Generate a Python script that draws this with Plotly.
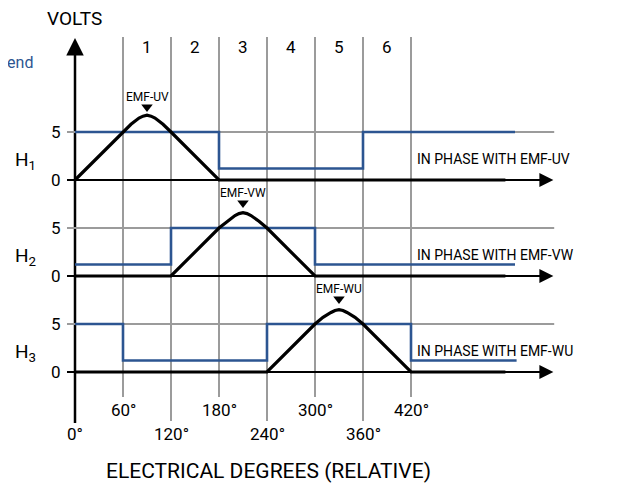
import plotly.graph_objects as go

# ---------------- data ----------------
# EMF traces (volts vs electrical degrees)
emf_uv_x = [0, 60, 70, 80, 85, 90, 95, 100, 110, 120, 180, 538]
emf_uv_y = [0, 5, 5.8, 6.45, 6.65, 6.75, 6.65, 6.45, 5.8, 5, 0, 0]
emf_vw_x = [0, 120, 180, 190, 200, 205, 210, 215, 220, 230, 240, 300, 538]
emf_vw_y = [0, 0, 5, 5.7, 6.3, 6.5, 6.6, 6.5, 6.3, 5.7, 5, 0, 0]
emf_wu_x = [0, 240, 300, 310, 320, 325, 330, 335, 340, 350, 360, 420, 538]
emf_wu_y = [0, 0, 5, 5.7, 6.2, 6.4, 6.5, 6.4, 6.2, 5.7, 5, 0, 0]

# Hall sensor outputs (step, "hv")
h1_x = [0, 180, 360, 550]
h1_y = [5, 1.2, 5, 5]
h2_x = [0, 120, 300, 550]
h2_y = [1.2, 5, 1.2, 1.2]
h3_x = [0, 60, 240, 420, 552]
h3_y = [5, 1.2, 5, 1.2, 1.2]

peak_deg = [90, 210, 330]
emf_names = ["EMF-UV", "EMF-VW", "EMF-WU"]
phase_texts = ["IN PHASE WITH EMF-UV", "IN PHASE WITH EMF-VW", "IN PHASE WITH EMF-WU"]
hall_names = ["H<sub>1</sub>", "H<sub>2</sub>", "H<sub>3</sub>"]
step_labels = ["1", "2", "3", "4", "5", "6"]
step_centers = [90, 150, 210, 270, 330, 390]
deg_ticks_upper = [60, 180, 300, 420]
deg_ticks_lower = [0, 120, 240, 360]
grid_degs = [60, 120, 180, 240, 300, 360, 420]
volt_ticks = [0, 5]

# ---------------- styling / geometry ----------------
OFF = 8                      # page body margin offset
W, H = 623 - OFF, 484 - OFF
PX_PER_DEG = 0.8
X0_PX = 75 - OFF
PX_PER_V = 9.6
ZERO_PX = [180 - OFF, 276 - OFF, 372 - OFF]
FONT = "Roboto, sans-serif"
BLUE = "#2c5591"
GRAY = "#9b9b9b"


def py(px):
    return 1 - (px - OFF) / H


def pxx(px):
    return (px - OFF) / W


x_range = [-X0_PX / PX_PER_DEG, (W - X0_PX) / PX_PER_DEG]
yaxes = ["y", "y2", "y3"]

fig = go.Figure()

emf_x = [emf_uv_x, emf_vw_x, emf_wu_x]
emf_y = [emf_uv_y, emf_vw_y, emf_wu_y]
hx = [h1_x, h2_x, h3_x]
hy = [h1_y, h2_y, h3_y]

shapes = []
annotations = []


def label(text, x, y, xref, yref, size, xanchor="center", color="black", family=FONT):
    annotations.append(dict(xref=xref, yref=yref, x=x, y=y, text=text, showarrow=False,
                            xanchor=xanchor, yanchor="middle",
                            font=dict(family=family, size=size, color=color)))


# vertical grid lines
for d in grid_degs:
    bottom = 397 if (d // 60) % 2 == 1 else 421
    shapes.append(dict(type="line", xref="x", yref="paper", x0=d, x1=d,
                       y0=py(bottom), y1=py(37), line=dict(color=GRAY, width=2), layer="below"))
# y axis line
shapes.append(dict(type="line", xref="x", yref="paper", x0=0, x1=0,
                   y0=py(423), y1=py(45), line=dict(color="black", width=2.5), layer="below"))
annotations.append(dict(xref="x", yref="paper", x=0, y=py(38), ax=0, ay=18, axref="pixel", ayref="pixel",
                        showarrow=True, arrowhead=2, arrowsize=1.4, arrowwidth=2.5, arrowcolor="black",
                        text="", standoff=0))

for p in range(3):
    ya = yaxes[p]
    shapes.append(dict(type="line", xref="x", yref=ya, x0=-10, x1=599, y0=5, y1=5,
                       line=dict(color=GRAY, width=2), layer="below"))
    shapes.append(dict(type="line", xref="x", yref=ya, x0=-10, x1=590, y0=0, y1=0,
                       line=dict(color="black", width=2), layer="below"))
    annotations.append(dict(xref="x", yref=ya, x=598, y=0, ax=-20, ay=0, axref="pixel", ayref="pixel",
                            showarrow=True, arrowhead=2, arrowsize=1.4, arrowwidth=2, arrowcolor="black",
                            text="", standoff=0))
    fig.add_trace(go.Scatter(x=hx[p], y=hy[p], mode="lines", line=dict(color=BLUE, width=2.6, shape="hv"),
                             yaxis=ya, hoverinfo="skip"))
    fig.add_trace(go.Scatter(x=emf_x[p], y=emf_y[p], mode="lines", line=dict(color="black", width=3.2),
                             yaxis=ya, hoverinfo="skip"))
    fig.add_trace(go.Scatter(x=[peak_deg[p]], y=[7.6], mode="markers",
                             marker=dict(symbol="triangle-down", size=10, color="black"),
                             yaxis=ya, hoverinfo="skip"))
    label(emf_names[p], peak_deg[p], 8.6, "x", ya, 12)
    for v in volt_ticks:
        label(str(v), pxx(63), v, "paper", ya, 17, xanchor="right")
    label(hall_names[p], pxx(13), 2.0, "paper", ya, 19, xanchor="left")
    label(phase_texts[p], pxx(415), 2.2, "paper", ya, 14, xanchor="left")

for lab, c in zip(step_labels, step_centers):
    label(lab, c, py(47), "x", "paper", 17)
for d in deg_ticks_upper:
    label(f"{d}°", d, py(410), "x", "paper", 17)
for d in deg_ticks_lower:
    label(f"{d}°", d, py(434), "x", "paper", 17)

label("VOLTS", pxx(74), py(18), "paper", "paper", 19)
label("ELECTRICAL DEGREES (RELATIVE)", pxx(268), py(471), "paper", "paper", 21)
label("Legend", pxx(35), py(62), "paper", "paper", 16, xanchor="right", color=BLUE)


def yr(z):
    return [-(H - z) / PX_PER_V, z / PX_PER_V]


fig.update_layout(
    width=W, height=H, margin=dict(l=0, r=0, t=0, b=0),
    paper_bgcolor="white", plot_bgcolor="white", showlegend=False,
    xaxis=dict(range=x_range, visible=False, fixedrange=True),
    yaxis=dict(range=yr(ZERO_PX[0]), visible=False, fixedrange=True),
    yaxis2=dict(range=yr(ZERO_PX[1]), visible=False, overlaying="y", fixedrange=True),
    yaxis3=dict(range=yr(ZERO_PX[2]), visible=False, overlaying="y", fixedrange=True),
    shapes=shapes, annotations=annotations,
)

fig.write_html("out.html")
